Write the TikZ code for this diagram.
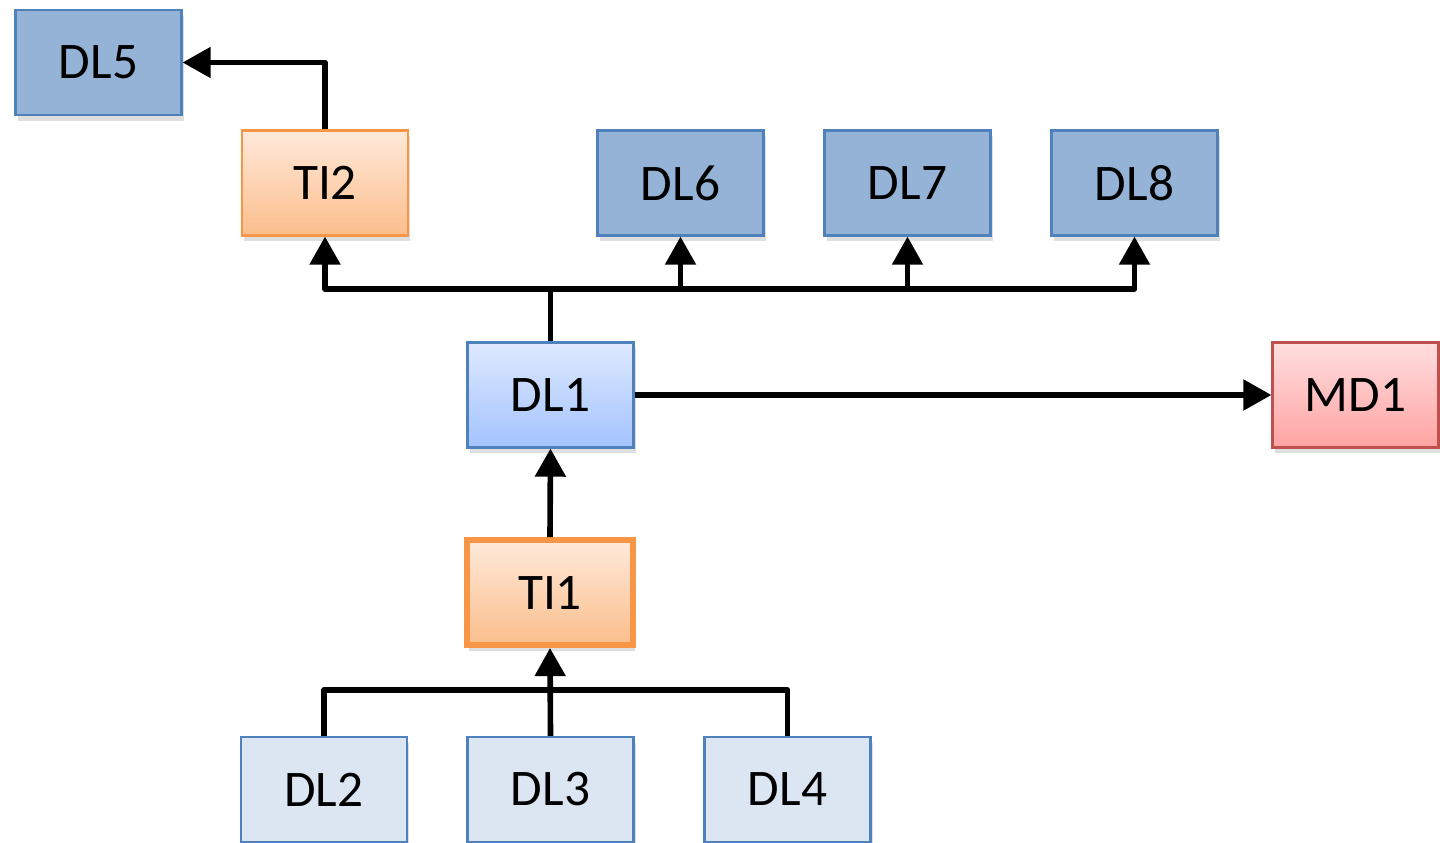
\documentclass[tikz,border=0pt]{standalone}
\usepackage{fontspec}
\setmainfont{Carlito}
\usetikzlibrary{arrows.meta,shadows}

\definecolor{dlblue}{HTML}{95B3D7}
\definecolor{dlpale}{HTML}{DCE6F2}
\definecolor{dledge}{HTML}{4F81BD}
\definecolor{tiedge}{HTML}{F79646}
\definecolor{mdedge}{HTML}{C0504D}

\tikzset{
  box/.style={draw=dledge, line width=0.6pt, minimum width=1.66cm, minimum height=1.05cm,
    inner sep=0pt, font=\fontsize{14.6}{17}\selectfont,
    drop shadow={shadow xshift=0.6pt, shadow yshift=-1.6pt, opacity=0.25}},
  dlbox/.style={box, fill=dlblue},
  dlpalebox/.style={box, fill=dlpale},
  dlmainbox/.style={box, top color={rgb,255:red,222;green,233;blue,255}, bottom color={rgb,255:red,163;green,195;blue,255}},
  tibox/.style={box, draw=tiedge, top color={rgb,255:red,255;green,233;blue,218}, bottom color={rgb,255:red,251;green,190;blue,140}},
  mdbox/.style={box, draw=mdedge, top color={rgb,255:red,255;green,222;blue,222}, bottom color={rgb,255:red,255;green,163;blue,163}},
  link/.style={line width=1.6pt, line join=round},
  arrow/.style={link, -{Triangle[length=8pt,width=8.5pt]}}
}

\begin{document}
\begin{tikzpicture}

        \useasboundingbox (0,0) rectangle (14.4,-8.43);

        % Top row
        \node[dlbox] (dl5) at (0.985,-0.625) {DL5};
        \node[tibox] (ti2) at (3.25,-1.83) {TI2};
        \node[dlbox] (dl6) at (6.805,-1.83) {DL6};
        \node[dlbox] (dl7) at (9.075,-1.83) {DL7};
        \node[dlbox] (dl8) at (11.345,-1.83) {DL8};

        % Middle row
        \node[dlmainbox] (dl1) at (5.505,-3.95) {DL1};
        \node[mdbox] (md1) at (13.555,-3.95) {MD1};

        % Lower part
        \node[tibox, line width=1.7pt] (ti1) at (5.5,-5.925) {TI1};
        \node[dlpalebox] (dl2) at (3.24,-7.895) {DL2};
        \node[dlpalebox] (dl3) at (5.505,-7.895) {DL3};
        \node[dlpalebox] (dl4) at (7.875,-7.895) {DL4};

        % Connectors
        \coordinate (topbus) at (5.505,-2.89);
        \coordinate (botbus) at (5.505,-6.9);

        \draw[arrow] (ti2.north) |- (dl5.east);
        \draw[link] (dl1.north) -- (topbus);
        \draw[arrow] (topbus) -| (ti2.south);
        \draw[arrow] (topbus) -| (dl6.south);
        \draw[arrow] (topbus) -| (dl7.south);
        \draw[arrow] (topbus) -| (dl8.south);
        \draw[arrow] (dl1.east) -- (md1.west);
        \draw[arrow] (ti1.north) -- (dl1.south);
        \draw[link] (dl2.north) |- (botbus);
        \draw[link] (dl4.north) |- (botbus);
        \draw[arrow] (dl3.north) -- (ti1.south);

\end{tikzpicture}
\end{document}
